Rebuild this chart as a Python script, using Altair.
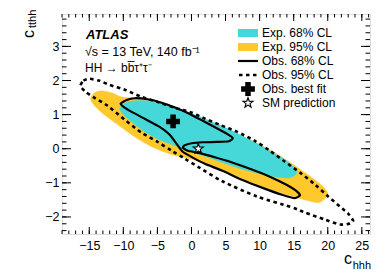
import altair as alt
import pandas as pd

# ---- contour vertices (c_hhh, c_tthh) ----
obs95_x = [-16.28, -15.84, -14.96, -13.49, -12.01, -9.81, -7.31, -4.66, -2.46, -0.25, 1.66, 4.16, 6.66,
           9.31, 11.51, 13.72, 15.93, 18.13, 19.90, 21.81, 22.99, 23.72, 23.28, 21.81, 19.60, 16.66,
           14.46, 9.60, 4.60, 1.22, -0.99, -2.90, -4.96, -7.31, -9.81, -12.31, -14.22, -15.54]
obs95_y = [1.84, 1.99, 2.05, 1.99, 1.87, 1.73, 1.52, 1.35, 1.20, 1.08, 0.91, 0.70, 0.50,
           0.23, -0.06, -0.38, -0.70, -1.05, -1.37, -1.70, -1.90, -2.11, -2.19, -2.22, -2.08, -1.87,
           -1.70, -1.40, -0.96, -0.56, -0.29, -0.06, 0.20, 0.47, 0.85, 1.26, 1.49, 1.67]

exp95_x = [-14.81, -14.22, -13.19, -11.72, -10.25, -7.60, -4.96, -2.46, -0.25, 1.96, 4.16, 6.66, 9.31,
           12.25, 15.19, 17.69, 19.31, 20.04, 19.60, 18.57, 15.93, 12.99, 10.04, 7.10, 4.16, 1.22,
           -0.99, -2.90, -5.84, -8.34, -10.54, -12.75, -14.22]
exp95_y = [1.46, 1.64, 1.70, 1.64, 1.52, 1.46, 1.35, 1.17, 1.02, 0.85, 0.64, 0.44, 0.20,
           -0.12, -0.50, -0.85, -1.11, -1.32, -1.46, -1.58, -1.46, -1.29, -1.08, -0.85, -0.61, -0.38,
           -0.26, -0.17, 0.06, 0.35, 0.67, 0.99, 1.26]

exp68_x = [-10.54, -9.96, -8.63, -6.13, -3.19, -0.25, 2.69, 5.63, 8.57, 11.51, 13.72, 15.04, 15.49,
           14.46, 12.25, 9.31, 6.37, 3.43, 0.49, -2.46, -4.66, -6.87, -8.78, -9.96]
exp68_y = [1.17, 1.32, 1.40, 1.40, 1.26, 1.05, 0.82, 0.56, 0.26, -0.06, -0.32, -0.53, -0.70,
           -0.85, -0.82, -0.70, -0.53, -0.32, -0.12, 0.09, 0.26, 0.50, 0.79, 0.99]

obs68_x = [-10.40, -9.51, -8.34, -6.43, -4.37, -2.31, -0.25, 1.66, 3.72, 5.34, 6.07, 5.49, 3.72,
           1.66, 0.04, -0.99, -1.28, -0.54, 1.22, 3.43, 6.07, 8.87, 11.51, 13.87, 15.34, 15.93,
           15.19, 13.28, 10.34, 7.40, 4.46, 1.96, 0.19, -1.28, -2.31, -3.19, -4.66, -6.87, -8.78, -9.96]
obs68_y = [1.32, 1.43, 1.48, 1.45, 1.35, 1.20, 1.02, 0.82, 0.60, 0.42, 0.31, 0.22, 0.20,
           0.19, 0.16, 0.10, 0.03, -0.06, -0.13, -0.25, -0.41, -0.61, -0.82, -1.05, -1.23, -1.36,
           -1.45, -1.35, -1.14, -0.91, -0.64, -0.44, -0.26, -0.09, 0.18, 0.41, 0.64, 0.88, 1.08, 1.23]

best_fit = (-2.7, 0.80)
sm_point = (1.0, 0.0)

x_major = [-15, -10, -5, 0, 5, 10, 15, 20, 25]
x_minor = list(range(-19, 27))
y_major = [-2, -1, 0, 1, 2, 3]
y_minor = [round(-2.4 + 0.2 * i, 1) for i in range(32)]

legend_labels = ["Exp. 68% CL", "Exp. 95% CL", "Obs. 68% CL", "Obs. 95% CL", "Obs. best fit", "SM prediction"]

CYAN = "#46D8D8"
YELLOW = "#FFC82C"
FONT = "Liberation Sans"
W, H = 308, 220
XD = [-19, 26.2]
YD = [-2.5, 3.95]

xs = alt.Scale(domain=XD, nice=False, zero=False)
ys = alt.Scale(domain=YD, nice=False, zero=False)
XAX = alt.Axis(values=x_major, ticks=False, tickSize=0, domain=False, grid=False, title=None,
               labelFontSize=12.5, labelFont=FONT, labelColor="black", labelPadding=5,
               labelExpr="replace(datum.label, '-', '\u2212')")
YAX = alt.Axis(values=y_major, ticks=False, tickSize=0, domain=False, grid=False, title=None,
               labelFontSize=12.5, labelFont=FONT, labelColor="black", labelPadding=3,
               labelExpr="replace(datum.label, '-', '\u2212')")


def X(f):
    return alt.X(f, scale=xs, axis=XAX)


def Y(f):
    return alt.Y(f, scale=ys, axis=YAX)


def poly(xv, yv):
    return pd.DataFrame({"x": xv, "y": yv, "i": list(range(len(xv)))})


def shape(df, tension=0.2, **mk):
    return alt.Chart(df).mark_line(interpolate="cardinal-closed", tension=tension, **mk).encode(
        x=X("x:Q"), y=Y("y:Q"), order="i:Q")


yellow = shape(poly(exp95_x, exp95_y), fill=YELLOW, stroke=YELLOW, strokeWidth=0.5)
cyan = shape(poly(exp68_x, exp68_y), fill=CYAN, stroke=CYAN, strokeWidth=0.5)
obs68 = shape(poly(obs68_x, obs68_y), tension=0.5, color="black", strokeWidth=2.2, strokeJoin="round")
obs95 = shape(poly(obs95_x, obs95_y), color="black", strokeWidth=2.6, strokeDash=[3.5, 3.5])

STAR = ("M0,-1L0.235,-0.324L0.951,-0.309L0.38,0.124L0.588,0.809L0,0.4L-0.588,0.809"
        "L-0.38,0.124L-0.951,-0.309L-0.235,-0.324Z")

bf = alt.Chart(pd.DataFrame({"x": [best_fit[0]], "y": [best_fit[1]]})).mark_point(
    shape="cross", filled=True, color="black", size=190, opacity=1).encode(x=X("x:Q"), y=Y("y:Q"))
sm = alt.Chart(pd.DataFrame({"x": [sm_point[0]], "y": [sm_point[1]]})).mark_point(
    shape=STAR, filled=True, fill="white", stroke="black", strokeWidth=1.1, size=110, opacity=1).encode(
    x=X("x:Q"), y=Y("y:Q"))


def xticks(vals, ln):
    d = pd.DataFrame({"v": vals})
    b = alt.Chart(d).mark_rule(color="black", strokeWidth=1).encode(
        x=X("v:Q"), y=alt.value(H), y2=alt.value(H - ln))
    t = alt.Chart(d).mark_rule(color="black", strokeWidth=1).encode(
        x=X("v:Q"), y=alt.value(0), y2=alt.value(ln))
    return b + t


def yticks(vals, ln):
    d = pd.DataFrame({"v": vals})
    l = alt.Chart(d).mark_rule(color="black", strokeWidth=1).encode(
        y=Y("v:Q"), x=alt.value(0), x2=alt.value(ln))
    r = alt.Chart(d).mark_rule(color="black", strokeWidth=1).encode(
        y=Y("v:Q"), x=alt.value(W), x2=alt.value(W - ln))
    return l + r


ticks = xticks(x_major, 7) + xticks(x_minor, 3.5) + yticks(y_major, 9) + yticks(y_minor, 4.5)


def txt(s, x, y, size, **kw):
    return alt.Chart(pd.DataFrame({"t": [s]})).mark_text(font=FONT, fontSize=size, color="black", **kw).encode(
        text="t:N", x=alt.value(x), y=alt.value(y))


labels = (
    txt("ATLAS", 24, 21, 13, fontWeight="bold", fontStyle="italic", align="left", baseline="middle")
    + txt("\u221As  = 13 TeV, 140 fb\u207b\u00b9", 23, 38, 12.5, align="left", baseline="middle")
    + txt("HH \u2192 bb\u0305\u03c4\u207a\u03c4\u207b", 23, 54, 12, align="left", baseline="middle")
    + txt("c", 290, 253, 16, align="right", baseline="bottom")
    + txt("hhh", 309, 257, 11, align="right", baseline="bottom")
    + txt("c", -33, 24, 16, align="left", baseline="middle", angle=270)
    + txt("tthh", -29, 14, 11, align="left", baseline="middle", angle=270)
)

# legend
LX0, LX1, LT = 176, 196, 200
rows = [19 + 14 * k for k in range(6)]
leg_text = alt.Chart(pd.DataFrame({"t": legend_labels, "r": rows})).mark_text(
    font=FONT, fontSize=12, align="left", baseline="middle", color="black").encode(
    text="t:N", x=alt.value(LT), y=alt.Y("r:Q", scale=None))
leg = (
    alt.Chart(pd.DataFrame({"a": [0]})).mark_rect(color=CYAN).encode(
        x=alt.value(LX0), x2=alt.value(LX1), y=alt.value(rows[0] - 4), y2=alt.value(rows[0] + 4))
    + alt.Chart(pd.DataFrame({"a": [0]})).mark_rect(color=YELLOW).encode(
        x=alt.value(LX0), x2=alt.value(LX1), y=alt.value(rows[1] - 4), y2=alt.value(rows[1] + 4))
    + alt.Chart(pd.DataFrame({"a": [0]})).mark_rule(color="black", strokeWidth=2.2).encode(
        x=alt.value(LX0), x2=alt.value(LX1), y=alt.value(rows[2]))
    + alt.Chart(pd.DataFrame({"a": [0]})).mark_rule(color="black", strokeWidth=2.6, strokeDash=[3.5, 3.5]).encode(
        x=alt.value(LX0 + 1), x2=alt.value(LX1), y=alt.value(rows[3]))
    + alt.Chart(pd.DataFrame({"a": [0]})).mark_point(shape="cross", filled=True, color="black", size=190, opacity=1).encode(
        x=alt.value((LX0 + LX1) / 2), y=alt.value(rows[4]))
    + alt.Chart(pd.DataFrame({"a": [0]})).mark_point(shape=STAR, filled=True, fill="white", stroke="black",
                                                     strokeWidth=1.1, size=110, opacity=1).encode(
        x=alt.value((LX0 + LX1) / 2), y=alt.value(rows[5]))
    + leg_text
)

chart = alt.layer(
    yellow, cyan, obs68, obs95, bf, sm, ticks, labels, leg
).properties(
    width=W, height=H, autosize="none",
    padding={"left": 54, "top": 6, "right": 12, "bottom": 38},
).configure_view(stroke="black", strokeWidth=1.2).configure(background="white")

chart.save("out.html", embed_options={"renderer": "svg", "actions": False})
